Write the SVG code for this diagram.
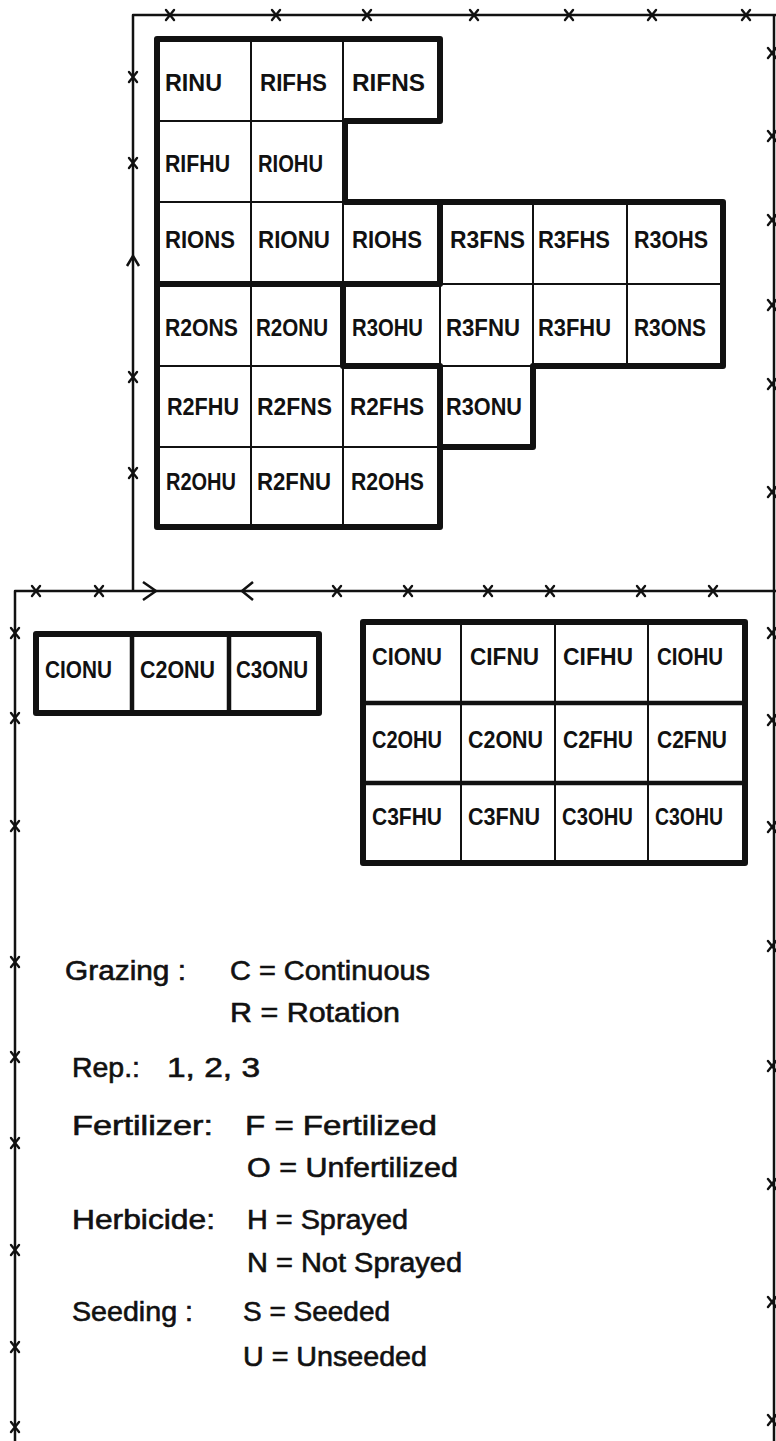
<svg xmlns="http://www.w3.org/2000/svg" xmlns:xlink="http://www.w3.org/1999/xlink" width="776" height="1441" viewBox="0 0 776 1441">
<style>
.fence{fill:none;stroke:#111;stroke-width:2.5;stroke-linejoin:round}
.tk{fill:none;stroke:#111;stroke-width:2.4;stroke-linecap:round}
.cell{fill:#fff;stroke:#111;stroke-width:2}
.thick{fill:none;stroke:#111;stroke-width:6;stroke-linejoin:round;stroke-linecap:round}
.mid{fill:none;stroke:#111;stroke-width:4.5;stroke-linecap:round}
.lbl{font-family:"Liberation Sans",Arial,sans-serif;font-weight:bold;font-size:24px;fill:#111}
.leg{font-family:"Liberation Sans",Arial,sans-serif;font-size:27px;fill:#111;stroke:#111;stroke-width:0.6}
</style>
<defs>
<path id="x" class="tk" d="M-4,-5 L4,5 M4,-5 L-4,5"/>
</defs>
<rect width="776" height="1441" fill="#fff"/>

<g id="fences">
<path class="fence" d="M133,590 V15 H776"/>
<path class="fence" d="M774,15 V1441"/>
<path class="fence" d="M15,1441 V591 H776"/>
<path class="fence" d="M127,266 L133,256 L139,266"/>
<path class="fence" d="M143,582 L156,591 L143,600"/>
<path class="fence" d="M253,582 L242,591 L253,600"/>
<use xlink:href="#x" x="170" y="15"/><use xlink:href="#x" x="276" y="15"/><use xlink:href="#x" x="367" y="15"/><use xlink:href="#x" x="474" y="15"/><use xlink:href="#x" x="569" y="15"/><use xlink:href="#x" x="652" y="15"/><use xlink:href="#x" x="746" y="15"/>
<use xlink:href="#x" x="133" y="77"/><use xlink:href="#x" x="133" y="163"/><use xlink:href="#x" x="133" y="377"/><use xlink:href="#x" x="133" y="473"/>
<use xlink:href="#x" x="772" y="53"/><use xlink:href="#x" x="772" y="136"/><use xlink:href="#x" x="772" y="220"/><use xlink:href="#x" x="772" y="305"/><use xlink:href="#x" x="772" y="384"/><use xlink:href="#x" x="772" y="492"/>
<use xlink:href="#x" x="36" y="591"/><use xlink:href="#x" x="99" y="591"/><use xlink:href="#x" x="337" y="591"/><use xlink:href="#x" x="408" y="591"/><use xlink:href="#x" x="488" y="591"/><use xlink:href="#x" x="550" y="591"/><use xlink:href="#x" x="641" y="591"/><use xlink:href="#x" x="713" y="591"/>
<use xlink:href="#x" x="15" y="633"/><use xlink:href="#x" x="15" y="718"/><use xlink:href="#x" x="15" y="826"/><use xlink:href="#x" x="15" y="962"/><use xlink:href="#x" x="15" y="1057"/><use xlink:href="#x" x="15" y="1143"/><use xlink:href="#x" x="15" y="1250"/><use xlink:href="#x" x="15" y="1347"/><use xlink:href="#x" x="15" y="1427"/>
<use xlink:href="#x" x="772" y="633"/><use xlink:href="#x" x="772" y="720"/><use xlink:href="#x" x="772" y="827"/><use xlink:href="#x" x="772" y="946"/><use xlink:href="#x" x="772" y="1066"/><use xlink:href="#x" x="772" y="1184"/><use xlink:href="#x" x="772" y="1302"/><use xlink:href="#x" x="772" y="1420"/>
</g>

<g id="rotation-plots">
<g id="R1NU"><rect class="cell" x="157" y="39" width="94" height="82"/><text class="lbl" x="165" y="91" textLength="57" lengthAdjust="spacingAndGlyphs">RINU</text></g>
<g id="R1FHS"><rect class="cell" x="251" y="39" width="92" height="82"/><text class="lbl" x="260" y="91" textLength="67" lengthAdjust="spacingAndGlyphs">RIFHS</text></g>
<g id="R1FNS"><rect class="cell" x="343" y="39" width="97" height="82"/><text class="lbl" x="352" y="91" textLength="73" lengthAdjust="spacingAndGlyphs">RIFNS</text></g>
<g id="R1FHU"><rect class="cell" x="157" y="121" width="94" height="81"/><text class="lbl" x="165" y="172" textLength="65" lengthAdjust="spacingAndGlyphs">RIFHU</text></g>
<g id="R1OHU"><rect class="cell" x="251" y="121" width="92" height="81"/><text class="lbl" x="258" y="172" textLength="65" lengthAdjust="spacingAndGlyphs">RIOHU</text></g>
<g id="R1ONS"><rect class="cell" x="157" y="202" width="94" height="82"/><text class="lbl" x="165" y="248" textLength="70" lengthAdjust="spacingAndGlyphs">RIONS</text></g>
<g id="R1ONU"><rect class="cell" x="251" y="202" width="92" height="82"/><text class="lbl" x="258" y="248" textLength="72" lengthAdjust="spacingAndGlyphs">RIONU</text></g>
<g id="R1OHS"><rect class="cell" x="343" y="202" width="97" height="82"/><text class="lbl" x="352" y="248" textLength="70" lengthAdjust="spacingAndGlyphs">RIOHS</text></g>
<g id="R3FNS"><rect class="cell" x="440" y="202" width="93" height="82"/><text class="lbl" x="450" y="248" textLength="75" lengthAdjust="spacingAndGlyphs">R3FNS</text></g>
<g id="R3FHS"><rect class="cell" x="533" y="202" width="94" height="82"/><text class="lbl" x="538" y="248" textLength="72" lengthAdjust="spacingAndGlyphs">R3FHS</text></g>
<g id="R3OHS"><rect class="cell" x="627" y="202" width="96" height="82"/><text class="lbl" x="634" y="248" textLength="74" lengthAdjust="spacingAndGlyphs">R3OHS</text></g>
<g id="R2ONS"><rect class="cell" x="157" y="284" width="94" height="82"/><text class="lbl" x="165" y="336" textLength="73" lengthAdjust="spacingAndGlyphs">R2ONS</text></g>
<g id="R2ONU"><rect class="cell" x="251" y="284" width="92" height="82"/><text class="lbl" x="256" y="336" textLength="72" lengthAdjust="spacingAndGlyphs">R2ONU</text></g>
<g id="R3OHU"><rect class="cell" x="343" y="284" width="97" height="82"/><text class="lbl" x="352" y="336" textLength="71" lengthAdjust="spacingAndGlyphs">R3OHU</text></g>
<g id="R3FNU"><rect class="cell" x="440" y="284" width="93" height="82"/><text class="lbl" x="446" y="336" textLength="74" lengthAdjust="spacingAndGlyphs">R3FNU</text></g>
<g id="R3FHU"><rect class="cell" x="533" y="284" width="94" height="82"/><text class="lbl" x="538" y="336" textLength="73" lengthAdjust="spacingAndGlyphs">R3FHU</text></g>
<g id="R3ONS"><rect class="cell" x="627" y="284" width="96" height="82"/><text class="lbl" x="634" y="336" textLength="72" lengthAdjust="spacingAndGlyphs">R3ONS</text></g>
<g id="R2FHU"><rect class="cell" x="157" y="366" width="94" height="81"/><text class="lbl" x="167" y="415" textLength="72" lengthAdjust="spacingAndGlyphs">R2FHU</text></g>
<g id="R2FNS"><rect class="cell" x="251" y="366" width="92" height="81"/><text class="lbl" x="257" y="415" textLength="75" lengthAdjust="spacingAndGlyphs">R2FNS</text></g>
<g id="R2FHS"><rect class="cell" x="343" y="366" width="97" height="81"/><text class="lbl" x="350" y="415" textLength="74" lengthAdjust="spacingAndGlyphs">R2FHS</text></g>
<g id="R3ONU"><rect class="cell" x="440" y="366" width="93" height="81"/><text class="lbl" x="446" y="415" textLength="76" lengthAdjust="spacingAndGlyphs">R3ONU</text></g>
<g id="R2OHU"><rect class="cell" x="157" y="447" width="94" height="80"/><text class="lbl" x="166" y="490" textLength="70" lengthAdjust="spacingAndGlyphs">R2OHU</text></g>
<g id="R2FNU"><rect class="cell" x="251" y="447" width="92" height="80"/><text class="lbl" x="257" y="490" textLength="74" lengthAdjust="spacingAndGlyphs">R2FNU</text></g>
<g id="R2OHS"><rect class="cell" x="343" y="447" width="97" height="80"/><text class="lbl" x="351" y="490" textLength="73" lengthAdjust="spacingAndGlyphs">R2OHS</text></g>
<g id="rep-borders">
<path class="thick" d="M157,39 H440 V121 H345 V202 H723 V366 H533 V447 H440 V527 H157 Z"/>
<path class="thick" d="M440,202 V284 M157,284 H440 M343,284 V366 H440 V447"/>
</g>
</g>

<g id="continuous-strip">
<g id="C1ONU-a"><rect class="cell" x="36" y="634" width="96" height="79"/><text class="lbl" x="45" y="678" textLength="67" lengthAdjust="spacingAndGlyphs">CIONU</text></g>
<g id="C2ONU-a"><rect class="cell" x="132" y="634" width="97" height="79"/><text class="lbl" x="140" y="678" textLength="75" lengthAdjust="spacingAndGlyphs">C2ONU</text></g>
<g id="C3ONU-a"><rect class="cell" x="229" y="634" width="90" height="79"/><text class="lbl" x="236" y="678" textLength="72" lengthAdjust="spacingAndGlyphs">C3ONU</text></g>
<path class="mid" d="M132,634 V713 M229,634 V713"/>
<rect class="thick" x="36" y="634" width="283" height="79"/>
</g>

<g id="continuous-grid">
<g id="C1ONU"><rect class="cell" x="363" y="622" width="98" height="81"/><text class="lbl" x="372" y="665" textLength="70" lengthAdjust="spacingAndGlyphs">CIONU</text></g>
<g id="C1FNU"><rect class="cell" x="461" y="622" width="94" height="81"/><text class="lbl" x="470" y="665" textLength="69" lengthAdjust="spacingAndGlyphs">CIFNU</text></g>
<g id="C1FHU"><rect class="cell" x="555" y="622" width="93" height="81"/><text class="lbl" x="563" y="665" textLength="70" lengthAdjust="spacingAndGlyphs">CIFHU</text></g>
<g id="C1OHU"><rect class="cell" x="648" y="622" width="97" height="81"/><text class="lbl" x="657" y="665" textLength="66" lengthAdjust="spacingAndGlyphs">CIOHU</text></g>
<g id="C2OHU"><rect class="cell" x="363" y="703" width="98" height="80"/><text class="lbl" x="372" y="748" textLength="70" lengthAdjust="spacingAndGlyphs">C2OHU</text></g>
<g id="C2ONU"><rect class="cell" x="461" y="703" width="94" height="80"/><text class="lbl" x="468" y="748" textLength="75" lengthAdjust="spacingAndGlyphs">C2ONU</text></g>
<g id="C2FHU"><rect class="cell" x="555" y="703" width="93" height="80"/><text class="lbl" x="563" y="748" textLength="70" lengthAdjust="spacingAndGlyphs">C2FHU</text></g>
<g id="C2FNU"><rect class="cell" x="648" y="703" width="97" height="80"/><text class="lbl" x="657" y="748" textLength="70" lengthAdjust="spacingAndGlyphs">C2FNU</text></g>
<g id="C3FHU"><rect class="cell" x="363" y="783" width="98" height="80"/><text class="lbl" x="372" y="825" textLength="70" lengthAdjust="spacingAndGlyphs">C3FHU</text></g>
<g id="C3FNU"><rect class="cell" x="461" y="783" width="94" height="80"/><text class="lbl" x="468" y="825" textLength="72" lengthAdjust="spacingAndGlyphs">C3FNU</text></g>
<g id="C3OHU"><rect class="cell" x="555" y="783" width="93" height="80"/><text class="lbl" x="562" y="825" textLength="71" lengthAdjust="spacingAndGlyphs">C3OHU</text></g>
<g id="C3OHU-b"><rect class="cell" x="648" y="783" width="97" height="80"/><text class="lbl" x="655" y="825" textLength="68" lengthAdjust="spacingAndGlyphs">C3OHU</text></g>
<path class="mid" d="M363,703 H745 M363,783 H745"/>
<rect class="thick" x="363" y="622" width="382" height="241"/>
</g>

<g id="legend">
<text class="leg" x="65" y="980" textLength="121" lengthAdjust="spacingAndGlyphs">Grazing :</text>
<text class="leg" x="230" y="980" textLength="200" lengthAdjust="spacingAndGlyphs">C = Continuous</text>
<text class="leg" x="230" y="1022" textLength="170" lengthAdjust="spacingAndGlyphs">R = Rotation</text>
<text class="leg" x="72" y="1077" textLength="68" lengthAdjust="spacingAndGlyphs">Rep.:</text>
<text class="leg" x="167" y="1077" textLength="93" lengthAdjust="spacingAndGlyphs">1, 2, 3</text>
<text class="leg" x="72" y="1135" textLength="141" lengthAdjust="spacingAndGlyphs">Fertilizer:</text>
<text class="leg" x="245" y="1135" textLength="192" lengthAdjust="spacingAndGlyphs">F = Fertilized</text>
<text class="leg" x="247" y="1177" textLength="211" lengthAdjust="spacingAndGlyphs">O = Unfertilized</text>
<text class="leg" x="72" y="1229" textLength="143" lengthAdjust="spacingAndGlyphs">Herbicide:</text>
<text class="leg" x="247" y="1229" textLength="161" lengthAdjust="spacingAndGlyphs">H = Sprayed</text>
<text class="leg" x="247" y="1272" textLength="215" lengthAdjust="spacingAndGlyphs">N = Not Sprayed</text>
<text class="leg" x="72" y="1321" textLength="121" lengthAdjust="spacingAndGlyphs">Seeding :</text>
<text class="leg" x="243" y="1321" textLength="147" lengthAdjust="spacingAndGlyphs">S = Seeded</text>
<text class="leg" x="243" y="1366" textLength="184" lengthAdjust="spacingAndGlyphs">U = Unseeded</text>
</g>
</svg>
